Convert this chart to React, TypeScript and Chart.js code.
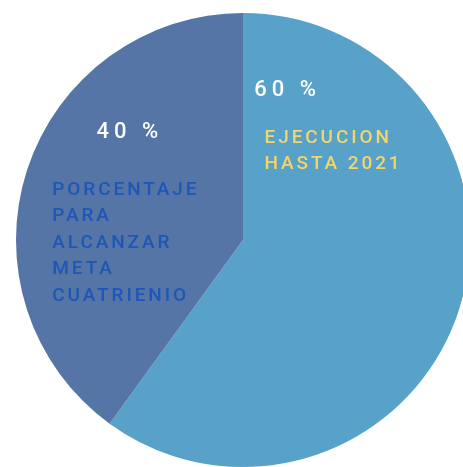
import React, { useEffect, useRef } from "react";
import { Chart, registerables } from "chart.js";

Chart.register(...registerables);

const categories = ["EJECUCION HASTA 2021", "PORCENTAJE PARA ALCANZAR META CUATRIENIO"];
const values = [60, 40];
const colors = ["#58A2CA", "#5475A5"];
const percentLabels = ["60 %", "40 %"];
const categoryLines = [
  ["EJECUCION", "HASTA 2021"],
  ["PORCENTAJE", "PARA", "ALCANZAR", "META", "CUATRIENIO"],
];
const categoryColors = ["#F2D56B", "#1E57B8"];

const labelPlugin = {
  id: "customLabels",
  afterDatasetsDraw(chart: any) {
    const ctx = chart.ctx;
    const arc = chart.getDatasetMeta(0).data[0];
    if (!arc) return;
    const cx = arc.x;
    const cy = arc.y;
    const r = arc.outerRadius;
    const pctPos = [
      [0.05, -0.66],
      [-0.645, -0.475],
    ];
    const catPos = [
      [0.095, -0.45],
      [-0.84, -0.22],
    ];
    ctx.save();
    ctx.textBaseline = "middle";
    ctx.textAlign = "left";
    values.forEach((_, i) => {
      ctx.fillStyle = "#ffffff";
      ctx.font = "500 22px Roboto";
      (ctx as any).letterSpacing = "5px";
      ctx.fillText(percentLabels[i], cx + pctPos[i][0] * r, cy + pctPos[i][1] * r);
      ctx.fillStyle = categoryColors[i];
      ctx.font = "500 19px Roboto";
      (ctx as any).letterSpacing = "2.9px";
      categoryLines[i].forEach((line, j) => {
        ctx.fillText(line, cx + catPos[i][0] * r, cy + catPos[i][1] * r + j * 26.5);
      });
    });
    ctx.restore();
  },
};

export default function App() {
  const ref = useRef<HTMLCanvasElement>(null);
  useEffect(() => {
    if (!ref.current) return;
    const chart = new Chart(ref.current, {
      type: "pie",
      data: {
        labels: categories,
        datasets: [
          {
            data: values,
            backgroundColor: colors,
            borderWidth: 0,
          },
        ],
      },
      options: {
        responsive: false,
        animation: false,
        layout: { padding: { top: 13, bottom: 13, left: 16, right: 16 } },
        plugins: {
          legend: { display: false },
          tooltip: { enabled: false },
        },
      },
      plugins: [labelPlugin],
    });
    return () => chart.destroy();
  }, []);
  return (
    <div
      style={{
        position: "fixed",
        left: 0,
        top: 0,
        width: 463,
        height: 467,
        overflow: "hidden",
        background: "#ffffff",
      }}
    >
      <canvas ref={ref} width={486} height={480} style={{ display: "block" }} />
    </div>
  );
}
